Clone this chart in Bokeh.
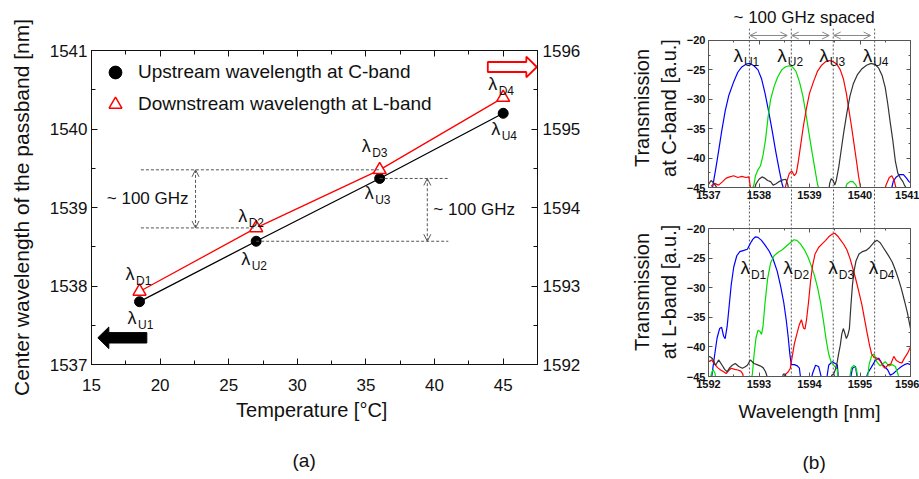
from bokeh.plotting import figure
from bokeh.models import (ColumnDataSource, Range1d, LinearAxis, SingleIntervalTicker, FixedTicker,
                          Legend, LegendItem, Arrow, OpenHead, Label, Title)
from bokeh.layouts import row, column
from bokeh.embed import file_html
from bokeh.resources import INLINE
from bokeh.core.properties import value

FONT = "Liberation Sans"
NAN = float("nan")

# ----------------------------- panel (a) data -----------------------------
temperature = [18.5, 27.0, 36.0, 45.0]
upstream_c = [1537.80, 1538.57, 1539.37, 1540.20]
downstream_l = [1592.93, 1593.74, 1594.48, 1595.40]
up_subs = ["U1", "U2", "U3", "U4"]
down_subs = ["D1", "D2", "D3", "D4"]
spacing_label = "~ 100 GHz"

# ----------------------------- panel (b) data -----------------------------
c_ticks = [1537, 1538, 1539, 1540, 1541]
c_marks = [1537.81, 1538.64, 1539.47, 1540.29]
l_marks = [1592.81, 1593.64, 1594.47, 1595.29]

c_blue_x = [1537.08, 1537.10, 1537.15, 1537.20, 1537.26, 1537.33, 1537.40, 1537.50, 1537.58, 1537.66,
            1537.75, 1537.82, 1537.90, 1537.98, 1538.05, 1538.12, 1538.19, 1538.26, 1538.33, 1538.40,
            1538.46, 1538.48, NAN,
            1540.63, 1540.66, 1540.72, 1540.79, 1540.86, 1540.92, 1540.97, 1541.0]
c_blue_y = [-45, -44.0, -41.5, -38.8, -35.5, -32.0, -29.4, -27.0, -25.4, -24.5,
            -24.0, -23.9, -24.3, -25.0, -26.5, -29.0, -32.0, -35.3, -38.8, -42.0,
            -44.5, -45, NAN,
            -45, -43.9, -43.2, -42.8, -42.8, -43.4, -44.0, -44.2]

c_green_x = [1537.88, 1537.90, 1537.93, 1537.98, 1538.03, 1538.08, 1538.13, 1538.18, 1538.23, 1538.30,
             1538.37, 1538.45, 1538.52, 1538.59, 1538.66, 1538.73, 1538.80, 1538.87, 1538.93, 1538.99,
             1539.05, 1539.11, 1539.16, 1539.18, NAN,
             1539.72, 1539.74, 1539.80, 1539.86, 1539.92, 1539.94]
c_green_y = [-45, -44.5, -43.0, -42.0, -41.3, -39.5, -36.8, -33.0, -30.0, -27.8,
             -26.2, -25.0, -24.5, -24.3, -24.5, -25.2, -27.0, -29.5, -32.5, -35.8,
             -39.0, -42.0, -44.5, -45, NAN,
             -45, -44.4, -44.0, -44.0, -44.6, -45]

c_red_x = [1537.05, 1537.12, 1537.20, 1537.28, 1537.35, 1537.42, 1537.50, 1537.58, 1537.66, 1537.74,
           1537.80, 1537.83, NAN,
           1538.52, 1538.55, 1538.60, 1538.65, 1538.70, 1538.74, 1538.78, 1538.83, 1538.88, 1538.94,
           1539.00, 1539.08, 1539.16, 1539.24, 1539.32, 1539.40, 1539.47, 1539.54, 1539.61, 1539.67,
           1539.73, 1539.78, 1539.83, 1539.88, 1539.93, 1539.97, 1540.01, NAN,
           1540.50, 1540.52, 1540.58, 1540.63, 1540.68, 1540.71]
c_red_y = [-44.8, -44.3, -44.6, -44.0, -43.4, -43.2, -43.0, -43.3, -43.1, -43.3,
           -43.2, -45, NAN,
           -45, -44.0, -42.6, -42.2, -43.0, -42.5, -40.5, -37.5, -34.5, -31.5,
           -29.0, -27.0, -25.2, -24.2, -23.6, -23.4, -23.6, -24.0, -25.0, -26.5,
           -29.0, -31.8, -34.5, -37.5, -40.5, -43.0, -45, NAN,
           -45, -44.5, -43.3, -43.0, -43.9, -45]

c_black_x = [1537.00, 1537.05, 1537.10, 1537.15, 1537.16, NAN,
             1537.92, 1537.94, 1538.00, 1538.06, 1538.11, 1538.17, 1538.23, 1538.28, 1538.33, 1538.40,
             1538.47, 1538.53, 1538.57, 1538.58, NAN,
             1539.39, 1539.40, 1539.43, 1539.47, 1539.50, 1539.53, 1539.58, 1539.63, 1539.68, 1539.74,
             1539.80, 1539.87, 1539.95, 1540.04, 1540.13, 1540.22, 1540.30, 1540.37, 1540.44, 1540.50,
             1540.55, 1540.60, 1540.65, 1540.70, 1540.75, 1540.80, 1540.85, 1540.88, 1540.91]
c_black_y = [-44.5, -43.8, -44.2, -44.8, -45, NAN,
             -45, -44.4, -43.6, -43.2, -43.4, -43.8, -44.0, -44.6, -44.4, -44.0,
             -43.7, -43.6, -44.5, -45, NAN,
             -45, -44.3, -43.5, -43.8, -44.6, -43.8, -41.5, -38.5, -35.5, -32.3,
             -29.5, -27.3, -25.8, -24.8, -24.2, -23.9, -24.1, -24.7, -26.0, -28.0,
             -30.8, -34.0, -37.0, -40.5, -42.6, -43.4, -44.0, -44.6, -45]

l_blue_x = [1592.05, 1592.08, 1592.12, 1592.17, 1592.22, 1592.26, 1592.30, 1592.33, 1592.37, 1592.41,
            1592.45, 1592.50, 1592.56, 1592.62, 1592.70, 1592.77, 1592.83, 1592.88, 1592.93, 1592.98,
            1593.05, 1593.12, 1593.20, 1593.28, 1593.36, 1593.43, 1593.49, 1593.54, 1593.58, 1593.61,
            1593.64, 1593.70, 1593.76, 1593.80, 1593.82, 1593.84, NAN,
            1594.02, 1594.06, 1594.12, 1594.18, 1594.22, 1594.25, NAN,
            1594.33, 1594.38, 1594.45, 1594.55, 1594.58, NAN,
            1594.80, 1594.85, 1594.91, 1594.96, NAN,
            1595.10, 1595.15, 1595.22, 1595.31, 1595.37, 1595.45, 1595.55, 1595.60, 1595.66, 1595.75,
            1595.82, 1595.88, 1595.94, 1596.00]
l_blue_y = [-46, -44.0, -41.5, -38.5, -36.9, -36.7, -38.2, -38.6, -36.5, -33.0,
            -29.5, -26.5, -24.6, -23.9, -23.7, -23.5, -22.5, -21.8, -21.4, -21.5,
            -22.0, -22.8, -23.8, -25.2, -27.2, -29.8, -32.5, -35.5, -38.5, -41.2,
            -43.0, -43.0, -43.2, -43.6, -45.0, -46, NAN,
            -46, -44.5, -43.1, -43.3, -44.6, -46, NAN,
            -46, -43.1, -42.5, -43.0, -46, NAN,
            -46, -43.6, -43.3, -46, NAN,
            -46, -44.5, -43.5, -42.2, -41.9, -43.0, -43.9, -44.8, -44.5, -43.8,
            -43.3, -43.0, -42.8, -43.0]

l_green_x = [1592.00, 1592.05, 1592.09, 1592.13, 1592.15, NAN,
             1592.84, 1592.87, 1592.90, 1592.94, 1592.98, 1593.02, 1593.05, 1593.08, 1593.12, 1593.17,
             1593.23, 1593.30, 1593.38, 1593.46, 1593.54, 1593.62, 1593.69, 1593.75, 1593.82, 1593.90,
             1593.97, 1594.04, 1594.10, 1594.16, 1594.22, 1594.28, 1594.33, 1594.38, 1594.43, 1594.50,
             1594.55, 1594.58, NAN,
             1594.78, 1594.83, 1594.88, 1594.93, 1594.97, NAN,
             1595.14, 1595.18, 1595.23, 1595.28, 1595.33, 1595.40, 1595.46, 1595.50, 1595.57, 1595.64,
             1595.70, 1595.76, 1595.78]
l_green_y = [-46, -44.8, -43.8, -44.5, -46, NAN,
             -46, -44.5, -41.5, -38.5, -37.2, -37.4, -37.9, -36.5, -32.5, -28.5,
             -25.8, -24.6, -24.0, -23.6, -23.0, -22.4, -21.9, -22.0, -22.6, -23.6,
             -24.8, -26.4, -28.0, -30.0, -32.5, -35.8, -38.8, -41.2, -42.6, -43.3,
             -43.8, -46, NAN,
             -46, -43.5, -43.1, -43.8, -46, NAN,
             -46, -43.0, -41.5, -41.2, -42.5, -43.2, -42.8, -42.5, -43.2, -43.0,
             -43.3, -44.8, -46]

l_red_x = [1592.00, 1592.06, 1592.12, 1592.18, 1592.24, 1592.30, 1592.35, 1592.40, 1592.45, 1592.52,
           1592.58, 1592.64, 1592.68, 1592.70, NAN,
           1593.50, 1593.53, 1593.58, 1593.62, 1593.66, 1593.70, 1593.75, 1593.80, 1593.84, 1593.88,
           1593.91, 1593.94, 1593.98, 1594.02, 1594.06, 1594.11, 1594.18, 1594.25, 1594.32, 1594.38,
           1594.44, 1594.50, 1594.56, 1594.62, 1594.68, 1594.74, 1594.80, 1594.86, 1594.92, 1594.98,
           1595.04, 1595.09, 1595.14, 1595.19, 1595.23, 1595.28, 1595.34, 1595.41, 1595.46, 1595.50,
           1595.56, 1595.61, 1595.67, 1595.72, 1595.78, 1595.83, 1595.88, 1595.94, 1596.00]
l_red_y = [-42.5, -42.2, -42.9, -43.5, -43.9, -44.2, -44.5, -44.0, -43.6, -43.8,
           -43.9, -44.1, -44.6, -46, NAN,
           -46, -44.6, -44.2, -43.6, -41.5, -39.5, -37.8, -36.2, -35.4, -36.8,
           -37.0, -35.5, -32.5, -29.0, -26.3, -24.3, -23.2, -22.6, -22.0, -21.4,
           -21.0, -20.8, -21.3, -22.0, -22.7, -23.6, -25.0, -26.8, -28.7, -30.8,
           -33.0, -35.3, -37.6, -39.8, -41.2, -41.8, -41.9, -42.5, -43.3, -43.6,
           -43.0, -42.9, -41.6, -42.3, -42.6, -42.7, -41.9, -41.1, -40.0]

l_black_x = [1592.00, 1592.04, 1592.08, 1592.14, 1592.20, 1592.27, 1592.32, 1592.37, 1592.42, 1592.47,
             1592.53, 1592.60, 1592.67, 1592.72, 1592.77, 1592.83, 1592.90, 1592.96, 1593.02, 1593.08,
             1593.13, 1593.16, 1593.18, NAN,
             1593.45, 1593.48, 1593.52, 1593.55, NAN,
             1594.40, 1594.44, 1594.48, 1594.52, 1594.55, 1594.58, 1594.61, 1594.64, 1594.67, 1594.70,
             1594.73, 1594.76, 1594.79, 1594.82, 1594.85, 1594.88, 1594.92, 1594.98, 1595.05, 1595.12,
             1595.18, 1595.23, 1595.28, 1595.34, 1595.40, 1595.46, 1595.52, 1595.58, 1595.64, 1595.70,
             1595.76, 1595.82, 1595.88, 1595.94, 1596.00]
l_black_y = [-41.6, -41.7, -42.0, -43.1, -42.2, -43.1, -43.8, -44.2, -43.5, -43.1,
             -42.8, -43.3, -43.6, -43.4, -43.1, -42.2, -42.8, -43.0, -43.2, -43.5,
             -44.2, -45.0, -46, NAN,
             -46, -44.6, -44.6, -46, NAN,
             -46, -44.8, -44.6, -43.6, -42.5, -41.0, -39.7, -37.8, -36.9, -37.7,
             -38.6, -38.0, -36.9, -33.0, -29.6, -27.3, -25.5, -24.3, -23.9, -23.7,
             -23.3, -22.8, -22.3, -22.0, -22.4, -23.2, -24.0, -24.8, -25.7, -27.0,
             -28.5, -30.2, -32.2, -34.3, -36.9]

# ------------------------------- helpers ----------------------------------
def style_axis(ax, size, bold=False, color="#111111", tick_in=6, minor_in=4,
               labels=True, standoff=4):
    ax.axis_line_color = color
    ax.major_tick_line_color = color
    ax.minor_tick_line_color = color
    ax.major_tick_in = tick_in
    ax.major_tick_out = 0
    ax.minor_tick_in = minor_in
    ax.minor_tick_out = 0
    ax.major_label_text_font = FONT
    ax.major_label_text_font_style = "bold" if bold else "normal"
    if labels:
        ax.major_label_text_color = "#111111"
        ax.major_label_text_font_size = f"{size}px"
        ax.major_label_standoff = standoff
    else:
        ax.major_label_text_color = None
        ax.major_label_text_font_size = "1px"
        ax.major_label_standoff = 0
    ax.axis_label_text_font = FONT
    ax.axis_label_text_font_style = "normal"
    ax.axis_label_text_color = "#111111"


def lambda_labels(p, xs, ys, subs, dx, dy, y_range_name="default", size=18, sub_size=12):
    src = ColumnDataSource(dict(x=xs, y=ys, sub=subs, dx=dx, dy=dy,
                                sdx=[v + 10.5 for v in dx], sdy=[v + 7 for v in dy]))
    p.text(x="x", y="y", text=value("λ"), x_offset="dx", y_offset="dy", source=src,
           text_font=value(FONT), text_font_size=f"{size}px", text_align="left",
           text_baseline="middle", text_color="#111111", y_range_name=y_range_name)
    p.text(x="x", y="y", text="sub", x_offset="sdx", y_offset="sdy", source=src,
           text_font=value(FONT), text_font_size=f"{sub_size}px", text_align="left",
           text_baseline="middle", text_color="#111111", y_range_name=y_range_name)


# ------------------------------- panel (a) --------------------------------
pa = figure(frame_width=446, frame_height=314,
            min_border_left=91, min_border_right=63, min_border_top=50, min_border_bottom=115,
            x_range=Range1d(15, 47.5), y_range=Range1d(1537, 1541),
            output_backend="svg", toolbar_location=None)
pa.extra_y_ranges = {"right": Range1d(1592, 1596)}
pa.xgrid.visible = False
pa.ygrid.visible = False
pa.outline_line_color = "black"
pa.background_fill_color = "white"
pa.border_fill_color = "white"

bottom = pa.below[0]
left = pa.left[0]
bottom.ticker = SingleIntervalTicker(interval=5, num_minor_ticks=2)
left.ticker = SingleIntervalTicker(interval=1, num_minor_ticks=2)
style_axis(bottom, 17, standoff=14)
style_axis(left, 17, standoff=4)
bottom.axis_label = "Temperature  [°C]"
bottom.axis_label_text_font_size = "20px"
bottom.axis_label_standoff = 5
left.axis_label = "Center wavelength of the passband [nm]"
left.axis_label_text_font_size = "21px"
left.axis_label_standoff = 14

top_ax = LinearAxis(ticker=SingleIntervalTicker(interval=5, num_minor_ticks=2))
style_axis(top_ax, 0, labels=False)
pa.add_layout(top_ax, "above")
right_ax = LinearAxis(y_range_name="right", ticker=SingleIntervalTicker(interval=1, num_minor_ticks=2))
style_axis(right_ax, 17, standoff=5)
pa.add_layout(right_ax, "right")

pa.line(temperature, upstream_c, line_color="black", line_width=1.3)
pa.line(temperature, downstream_l, line_color="red", line_width=1.3, y_range_name="right")
r_up = pa.scatter(temperature, upstream_c, marker="circle", size=10, fill_color="black",
                  line_color="black")
r_dn = pa.scatter(temperature, downstream_l, marker="triangle", size=13, fill_color="white",
                  line_color="red", line_width=1.5, y_range_name="right")

# dashed level guides
guide_left, guide_right = 18.6, 41.0
pa.segment(x0=[guide_left, guide_left], y0=downstream_l[1:3], x1=temperature[1:3],
           y1=downstream_l[1:3], y_range_name="right", line_color="#555555",
           line_dash="3 2", line_width=1)
pa.segment(x0=temperature[1:3], y0=upstream_c[1:3], x1=[guide_right, guide_right],
           y1=upstream_c[1:3], line_color="#555555", line_dash="3 2", line_width=1)

arrow_left_x, arrow_right_x = 22.58, 39.47
pa.add_layout(Arrow(start=OpenHead(size=7, line_color="#555555", line_width=1),
                    end=OpenHead(size=7, line_color="#555555", line_width=1),
                    x_start=arrow_left_x, y_start=downstream_l[1], x_end=arrow_left_x,
                    y_end=downstream_l[2], y_range_name="right", line_color="#555555",
                    line_dash="3 2", line_width=1))
pa.add_layout(Arrow(start=OpenHead(size=7, line_color="#555555", line_width=1),
                    end=OpenHead(size=7, line_color="#555555", line_width=1),
                    x_start=arrow_right_x, y_start=upstream_c[1], x_end=arrow_right_x,
                    y_end=upstream_c[2], line_color="#555555", line_dash="3 2", line_width=1))
pa.add_layout(Label(x=arrow_left_x, y=(downstream_l[1] + downstream_l[2]) / 2,
                    y_range_name="right", x_offset=-7, text=spacing_label, text_align="right",
                    text_baseline="middle", text_font=FONT, text_font_size="17px",
                    text_color="#111111"))
pa.add_layout(Label(x=arrow_right_x, y=(upstream_c[1] + upstream_c[2]) / 2, x_offset=6,
                    text=spacing_label, text_align="left", text_baseline="middle",
                    text_font=FONT, text_font_size="17px", text_color="#111111"))

# lambda labels
lambda_labels(pa, temperature, downstream_l, down_subs, dx=[-14, -18, -18, -15],
              dy=[-17, -12, -24, -14], y_range_name="right")
lambda_labels(pa, temperature, upstream_c, up_subs, dx=[-12, -15, -15, -12],
              dy=[16, 18, 15, 16])

# axis-direction block arrows (shape sizes in pixels converted through the frame scale)
px_x = (47.5 - 15) / 446.0
px_y = (1541 - 1537) / 314.0


def block_arrow(tip_x, yc, length_px, head_px, shaft_half_px, head_half_px, direction):
    hb = tip_x - direction * head_px * px_x
    tail = tip_x - direction * length_px * px_x
    sh, hh = shaft_half_px * px_y, head_half_px * px_y
    xs = [tip_x, hb, hb, tail, tail, hb, hb]
    ys = [yc, yc + hh, yc + sh, yc + sh, yc - sh, yc - sh, yc - hh]
    return xs, ys


bx, by = block_arrow(15.46, 1537.34, 49, 11, 5.2, 10.8, -1)
pa.patch(bx, by, fill_color="black", line_color="black")
rx, ry = block_arrow(47.45, 1540.79, 49, 10.5, 5.0, 10.3, 1)
pa.patch(rx, ry, fill_color="white", line_color="red", line_width=1.8)

legend = Legend(items=[LegendItem(label="Upstream wavelength at C-band", renderers=[r_up]),
                       LegendItem(label="Downstream wavelength at L-band", renderers=[r_dn])],
                location="top_left", margin=0, padding=6, glyph_width=36, glyph_height=32,
                spacing=0, label_standoff=5, label_text_font=FONT, label_text_font_size="19px",
                label_text_color="#111111", border_line_alpha=0, background_fill_alpha=0)
pa.add_layout(legend)

pa.add_layout(Title(text="(a)", align="left", offset=201, standoff=49, text_font=FONT,
                    text_font_size="19px", text_font_style="normal", text_color="#111111"),
              "below")

# ------------------------------- panel (b) --------------------------------
FRAME_B = "#555555"
C_RANGE = (-45.0, -17.96)    # C-band frame reaches up to the spacing arrows
L_RANGE = (-45.0, -16.45)    # L-band frame starts in the gap between the two boxes


def spectrum_fig(xr, yr, top_border, bottom_border, height, ylabel):
    p = figure(frame_width=202, frame_height=height,
               min_border_left=108, min_border_right=9, min_border_top=top_border,
               min_border_bottom=bottom_border, x_range=Range1d(*xr), y_range=Range1d(*yr),
               output_backend="svg", toolbar_location=None)
    p.xgrid.visible = False
    p.ygrid.visible = False
    p.outline_line_color = None
    b, l = p.below[0], p.left[0]
    b.ticker = SingleIntervalTicker(interval=1, num_minor_ticks=2)
    l.ticker = SingleIntervalTicker(interval=5, num_minor_ticks=2)
    style_axis(b, 11, bold=True, color=FRAME_B, tick_in=4, minor_in=2, standoff=3)
    style_axis(l, 11, bold=True, color=FRAME_B, tick_in=4, minor_in=2, standoff=3)
    l.bounds = (-45, -20)
    l.axis_label = ylabel
    l.axis_label_text_font_size = "20px"
    l.axis_label_standoff = 4
    t = LinearAxis(ticker=SingleIntervalTicker(interval=1, num_minor_ticks=2), fixed_location=-20)
    style_axis(t, 0, color=FRAME_B, tick_in=4, minor_in=2, labels=False)
    p.add_layout(t, "above")
    r = LinearAxis(ticker=SingleIntervalTicker(interval=5, num_minor_ticks=2), bounds=(-45, -20))
    style_axis(r, 0, color=FRAME_B, tick_in=4, minor_in=2, labels=False)
    p.add_layout(r, "right")
    return p


pb1 = spectrum_fig((1537, 1541), C_RANGE, 28, 20, 159, "Transmission\nat C-band [a.u.]")
pb2 = spectrum_fig((1592, 1596), L_RANGE, 0, 103, 169, "Transmission\nat L-band [a.u.]")
pb2.below[0].axis_label = "Wavelength [nm]"
pb2.below[0].axis_label_text_font_size = "19px"
pb2.below[0].axis_label_standoff = 10

# the C-band x axis carries the channel markers down through the gap between the boxes
cb = pb1.below[0]
cb.ticker = FixedTicker(ticks=c_ticks, minor_ticks=c_marks)
cb.minor_tick_in = 0
cb.minor_tick_out = 20
cb.minor_tick_line_dash = "2 2"
cb.minor_tick_line_color = "#555555"
cb.major_label_standoff = -17

# vertical dashed markers inside both boxes
pb1.segment(x0=c_marks, y0=[C_RANGE[1]] * 4, x1=c_marks, y1=[C_RANGE[0]] * 4,
            line_color="#555555", line_dash="2 2", line_width=1)
pb2.segment(x0=l_marks, y0=[L_RANGE[1]] * 4, x1=l_marks, y1=[L_RANGE[0]] * 4,
            line_color="#555555", line_dash="2 2", line_width=1)

BLUE, GREEN, RED, BLACK = "#0000ff", "#00dd00", "#ff0000", "#333333"
for xs, ys, col in [(c_blue_x, c_blue_y, BLUE), (c_green_x, c_green_y, GREEN),
                    (c_red_x, c_red_y, RED), (c_black_x, c_black_y, BLACK)]:
    pb1.line(xs, ys, line_color=col, line_width=1.2)
for xs, ys, col in [(l_blue_x, l_blue_y, BLUE), (l_green_x, l_green_y, GREEN),
                    (l_red_x, l_red_y, RED), (l_black_x, l_black_y, BLACK)]:
    pb2.line(xs, ys, line_color=col, line_width=1.2)

# "~100 GHz spaced" double arrows just above the C-band box
for a, b in zip(c_marks[:-1], c_marks[1:]):
    pb1.add_layout(Arrow(start=OpenHead(size=7, line_color="#888888", line_width=1),
                         end=OpenHead(size=7, line_color="#888888", line_width=1),
                         x_start=a + 0.01, y_start=-19.15, x_end=b - 0.08, y_end=-19.15,
                         line_color="#888888", line_width=1))
pb1.add_layout(Title(text="~ 100 GHz spaced", align="left", offset=25, standoff=3,
                     text_font=FONT, text_font_size="17px", text_font_style="normal",
                     text_color="#111111"), "above")

lambda_labels(pb1, c_marks, [-22.55] * 4, up_subs, dx=[-16, -14, -14, -12], dy=[0, 0, 0, 0],
              size=19, sub_size=12)
lambda_labels(pb2, l_marks, [-26.6] * 4, down_subs, dx=[-9, -8, -5, -6], dy=[0, 0, 0, 0],
              size=19, sub_size=12)

pb2.add_layout(Title(text="(b)", align="left", offset=94, standoff=51, text_font=FONT,
                     text_font_size="19px", text_font_style="normal", text_color="#111111"),
               "below")

layout = row(pa, column(pb1, pb2, spacing=0), spacing=0)
open("out.html", "w").write(file_html(layout, INLINE))
